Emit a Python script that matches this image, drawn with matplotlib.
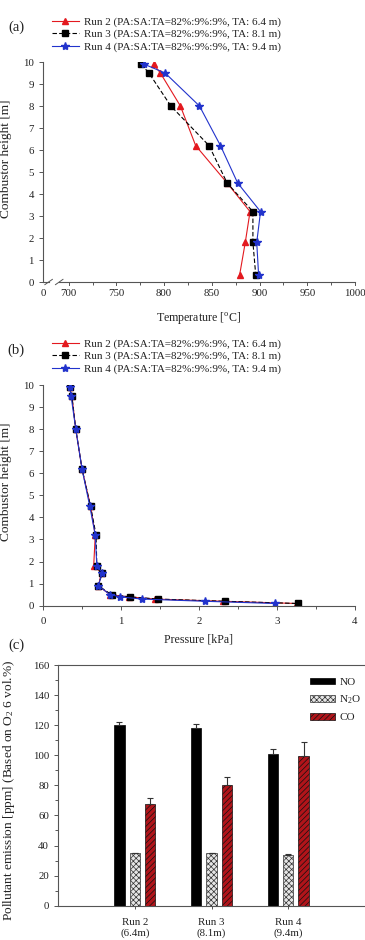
import matplotlib
matplotlib.use('Agg')
import matplotlib.pyplot as plt
from matplotlib.ticker import MultipleLocator, FixedLocator
import numpy as np

plt.rcParams['font.family'] = ['Liberation Serif', 'DejaVu Serif']
plt.rcParams['mathtext.fontset'] = 'custom'
plt.rcParams['mathtext.rm'] = 'Liberation Serif'
plt.rcParams['mathtext.it'] = 'Liberation Serif:italic'
plt.rcParams['hatch.linewidth'] = 0.5
plt.rcParams['axes.linewidth'] = 0.8
plt.rcParams['xtick.direction'] = 'out'
plt.rcParams['ytick.direction'] = 'out'

TXT = '#222222'
SPN = '#555555'
TICK_FS = 7.8
YLAB_FS = 9.6
XLAB_FS = 8.6

# ---------------- data ----------------
run_labels = ['Run 2 (PA:SA:TA=82%:9%:9%, TA: 6.4 m)',
              'Run 3 (PA:SA:TA=82%:9%:9%, TA: 8.1 m)',
              'Run 4 (PA:SA:TA=82%:9%:9%, TA: 9.4 m)']

height_temp = [9.9, 9.5, 8.0, 6.2, 4.5, 3.2, 1.8, 0.3]
temp_run2 = [789, 796, 817, 833, 866, 890, 885, 879]
temp_run3 = [776, 784, 807, 847, 866, 893, 893, 896]
temp_run4 = [779, 801, 837, 859, 877, 901, 897, 899]
temp_ticks = [700, 750, 800, 850, 900, 950, 1000]
temp_break_start = 673   # axis origin labelled "0" on the broken axis

height_pres = [9.9, 9.5, 8.0, 6.2, 4.5, 3.2, 1.8, 1.5, 0.9, 0.5, 0.4, 0.3, 0.2, 0.1]
pres_run2 = [0.34, 0.37, 0.42, 0.50, 0.61, 0.67, 0.65, 0.75, 0.71, 0.86, 1.10, 1.44, 2.31, 3.25]
pres_run3 = [0.34, 0.37, 0.42, 0.50, 0.61, 0.68, 0.69, 0.76, 0.71, 0.88, 1.12, 1.48, 2.33, 3.27]
pres_run4 = [0.34, 0.36, 0.42, 0.50, 0.60, 0.67, 0.69, 0.76, 0.71, 0.86, 0.99, 1.27, 2.08, 2.97]

runs = ['Run 2\n(6.4m)', 'Run 3\n(8.1m)', 'Run 4\n(9.4m)']
no_vals = [120.0, 117.8, 100.8]
no_err = [2.0, 3.0, 3.5]
n2o_vals = [34.8, 34.8, 34.0]
n2o_err = [0.5, 0.5, 0.5]
co_vals = [67.4, 80.4, 99.8]
co_err = [4.5, 5.0, 9.0]

# ---------------- figure ----------------
fig = plt.figure(figsize=(3.65, 9.4), dpi=100)

styles = [dict(color='#e3191f', marker='^', ls='-', ms=4.5, lw=0.8),
          dict(color='black', marker='s', ls=(0, (4, 2)), ms=4.5, lw=0.8),
          dict(color='#2233cc', marker='*', ls='-', ms=6, lw=0.8)]


def style_axes(ax):
    ax.spines['top'].set_visible(False)
    ax.spines['right'].set_visible(False)
    for s in ('left', 'bottom'):
        ax.spines[s].set_color(SPN)
    ax.tick_params(which='both', colors=SPN, labelcolor=TXT, labelsize=TICK_FS, width=0.7)
    ax.tick_params(which='major', length=3)
    ax.tick_params(which='minor', length=2)


legend_kw = dict(bbox_transform=fig.transFigure, loc='upper left', frameon=False, fontsize=8,
                 handlelength=2.4, handletextpad=0.5, labelspacing=0.22,
                 borderpad=0, borderaxespad=0, labelcolor=TXT)

# ---- (a) temperature ----
axa = fig.add_axes([43 / 365, 1 - 282 / 940, 312 / 365, 220 / 940])
for temps, lab, st in zip([temp_run2, temp_run3, temp_run4], run_labels, styles):
    axa.plot(temps, height_temp, label=lab, **st)
axa.set_xlim(temp_break_start, 1000)
axa.set_ylim(0, 10)
axa.xaxis.set_major_locator(FixedLocator([temp_break_start] + temp_ticks))
axa.set_xticklabels(['0'] + [str(t) for t in temp_ticks])
axa.xaxis.set_minor_locator(FixedLocator(np.arange(725, 1000, 50)))
axa.yaxis.set_major_locator(MultipleLocator(1))
style_axes(axa)
axa.tick_params(axis='x', which='major', length=0, pad=5)
axa.tick_params(axis='x', which='minor', length=2.5)
# broken-axis marks
axa.spines['bottom'].set_visible(False)
tr = axa.transAxes
axa.plot([0, 0.018], [0, 0], transform=tr, color=SPN, lw=0.8, clip_on=False)
axa.plot([0.052, 1.0], [0, 0], transform=tr, color=SPN, lw=0.8, clip_on=False)
for xc in (0.018, 0.052):
    axa.plot([xc - 0.012, xc + 0.012], [-0.012, 0.012], transform=tr, color=SPN, lw=0.7, clip_on=False)
for t in temp_ticks:
    axa.plot([t, t], [0, -0.012], transform=axa.get_xaxis_transform(), color=SPN, lw=0.7, clip_on=False)
axa.set_xlabel('Temperature [$^{\\rm o}$C]', fontsize=XLAB_FS, color=TXT)
axa.xaxis.set_label_coords(0.5, -0.125)
axa.set_ylabel('Combustor height [m]', fontsize=YLAB_FS, color=TXT)
axa.yaxis.set_label_coords(-0.098, 0.56)
axa.legend(bbox_to_anchor=(52 / 365, 1 - 17 / 940), **legend_kw)
fig.text(16 / 365, 1 - 27 / 940, '(a)', fontsize=10.5, ha='center', va='center', color=TXT)

# ---- (b) pressure ----
axb = fig.add_axes([43 / 365, 1 - 605.7 / 940, 312 / 365, 220.7 / 940])
for pres, lab, st in zip([pres_run2, pres_run3, pres_run4], run_labels, styles):
    axb.plot(pres, height_pres, label=lab, **st)
axb.set_xlim(0, 4)
axb.set_ylim(0, 10)
axb.xaxis.set_major_locator(MultipleLocator(1))
axb.xaxis.set_minor_locator(MultipleLocator(0.5))
axb.yaxis.set_major_locator(MultipleLocator(1))
style_axes(axb)
axb.tick_params(axis='x', which='major', pad=5)
axb.set_xlabel('Pressure [kPa]', fontsize=XLAB_FS, color=TXT)
axb.xaxis.set_label_coords(0.5, -0.125)
axb.set_ylabel('Combustor height [m]', fontsize=YLAB_FS, color=TXT)
axb.yaxis.set_label_coords(-0.098, 0.56)
axb.legend(bbox_to_anchor=(52 / 365, 1 - 339 / 940), **legend_kw)
fig.text(16 / 365, 1 - 350 / 940, '(b)', fontsize=10.5, ha='center', va='center', color=TXT)

# ---- (c) emissions ----
axc = fig.add_axes([58 / 365, 1 - 905.7 / 940, 307 / 365, 240.7 / 940])
x = np.arange(1, len(runs) + 1)
w = 0.135
off = 0.2
axc.bar(x - off, no_vals, w, color='black', edgecolor='black', lw=0.5, label='NO')
axc.bar(x, n2o_vals, w, color='#e6e6e6', edgecolor='#333333', hatch='xxxxxx', lw=0.5,
        label='N$_2$O')
axc.bar(x + off, co_vals, w, color='#b0141a', edgecolor='#111111', hatch='//////', lw=0.5,
        label='CO')
for xs, vals, errs in [(x - off, no_vals, no_err), (x, n2o_vals, n2o_err), (x + off, co_vals, co_err)]:
    axc.errorbar(xs, vals, yerr=[np.zeros(len(errs)), errs], fmt='none', ecolor='#333333',
                 elinewidth=0.8, capsize=2.5, capthick=0.8)
axc.set_xlim(0, 4)
axc.set_ylim(0, 160)
axc.set_xticks(x)
axc.set_xticklabels(runs, linespacing=1.3)
axc.yaxis.set_major_locator(MultipleLocator(20))
axc.yaxis.set_minor_locator(MultipleLocator(10))
style_axes(axc)
axc.spines['top'].set_visible(True)
axc.spines['top'].set_color(SPN)
axc.tick_params(axis='x', length=2.5, pad=6)
axc.set_ylabel('Pollutant emission [ppm] (Based on O$_2$ 6 vol.%)', fontsize=YLAB_FS, color=TXT)
axc.yaxis.set_label_coords(-0.135, 0.48)
axc.legend(loc='upper left', bbox_to_anchor=(0.822, 0.947), frameon=False, fontsize=8,
           handlelength=2.2, handleheight=0.55, handletextpad=0.4, labelspacing=0.6,
           borderpad=0, borderaxespad=0, labelcolor=TXT)
fig.text(16 / 365, 1 - 645 / 940, '(c)', fontsize=10.5, ha='center', va='center', color=TXT)

fig.savefig('out.png', dpi=100)
